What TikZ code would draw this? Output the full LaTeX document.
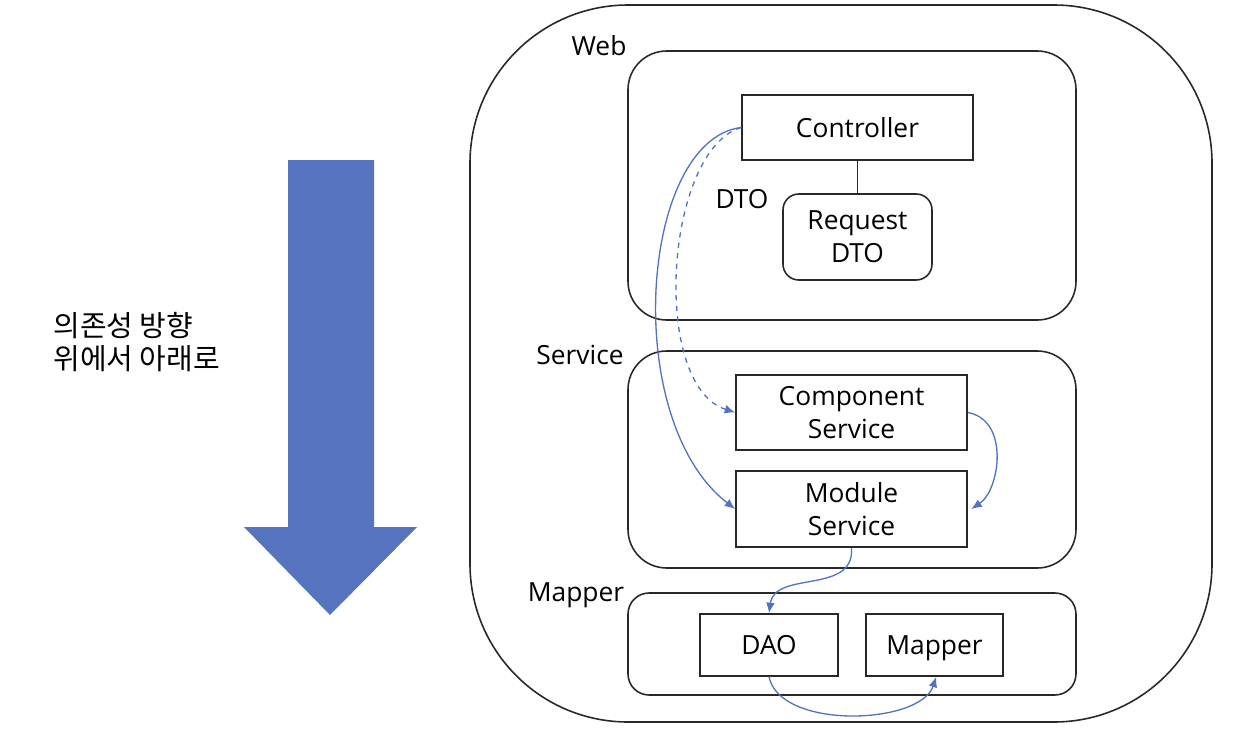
\documentclass[tikz,border=0pt]{standalone}
\usepackage{fontspec}
\setmainfont{Open Sans}
\newfontfamily\kor{Noto Sans CJK KR}
\usetikzlibrary{arrows.meta}
\definecolor{arrowblue}{RGB}{86,115,190}
\definecolor{edge}{RGB}{40,40,40}
\definecolor{conn}{RGB}{84,114,196}
\tikzset{
  x=0.02cm, y=-0.02cm,
  frame/.style={draw=edge, line width=0.9pt, rounded corners=#1},
  box/.style={draw=edge, line width=0.9pt, fill=white, inner sep=0pt, align=center, font=\fontsize{15}{18.8}\selectfont},
  lbl/.style={font=\fontsize{15}{18.8}\selectfont, inner sep=0pt},
  link/.style={draw=conn, line width=0.75pt, -{Latex[length=6pt,width=5pt]}},
}
\begin{document}
\begin{tikzpicture}
\useasboundingbox (0,0) rectangle (1235,734);
% big arrow
\fill[arrowblue] (288,160) -- (374,160) -- (374,527) -- (417,527) -- (330,615) -- (244,527) -- (288,527) -- cycle;
\node[anchor=west, align=left, inner sep=0pt, font=\kor\fontsize{16.5}{18.8}\selectfont] (dir) at (53,342) {의존성 방향\\위에서 아래로};
% outer frame
\draw[frame=90pt] (470,5) rectangle (1212,722);
% layers
\draw[frame=22pt] (628,51) rectangle (1076,320);
\draw[frame=22pt] (628,351) rectangle (1076,568);
\draw[frame=12pt] (628,593) rectangle (1076,695);
\node[lbl] (web) at (599,46) {Web};
\node[lbl] (svc) at (580,355) {Service};
\node[lbl] (map) at (576,595) {Mapper};
% web
\node[box, minimum width=231*0.02cm, minimum height=65*0.02cm] (ctrl) at (857.5,127.5) {Controller};
\node[lbl] (dto) at (742,199) {DTO};
\node[box, rounded corners=9pt, minimum width=149*0.02cm, minimum height=86*0.02cm] (req) at (857.5,237) {Request\\DTO};
\draw[edge, line width=0.9pt] (ctrl.south) -- (req.north);
% service
\node[box, minimum width=231*0.02cm, minimum height=75*0.02cm] (comp) at (851.5,412.5) {Component\\Service};
\node[box, minimum width=231*0.02cm, minimum height=76*0.02cm] (mod) at (851.5,509) {Module\\Service};
% mapper
\node[box, minimum width=138*0.02cm, minimum height=62*0.02cm] (dao) at (769,645) {\raisebox{-2pt}[\height][\depth]{DAO\vphantom{Mp}}};
\node[box, minimum width=137*0.02cm, minimum height=62*0.02cm] (mpr) at (934.5,645) {\raisebox{-2pt}[\height][\depth]{Mapper}};
% connectors
\draw[link] (ctrl.west) .. controls (640,140) and (620,420) .. (mod.west);
\draw[link, dashed] (ctrl.west) .. controls (665,150) and (650,385) .. (comp.west);
\draw[link] (comp.east) .. controls (1010,420) and (1000,490) .. ([xshift=2pt]mod.east);
\draw[link] (mod.south) .. controls (855,595) and (775,570) .. (dao.north);
\draw[link] (dao.south) .. controls (780,730) and (920,725) .. ([xshift=1pt]mpr.south);
\end{tikzpicture}
\end{document}
